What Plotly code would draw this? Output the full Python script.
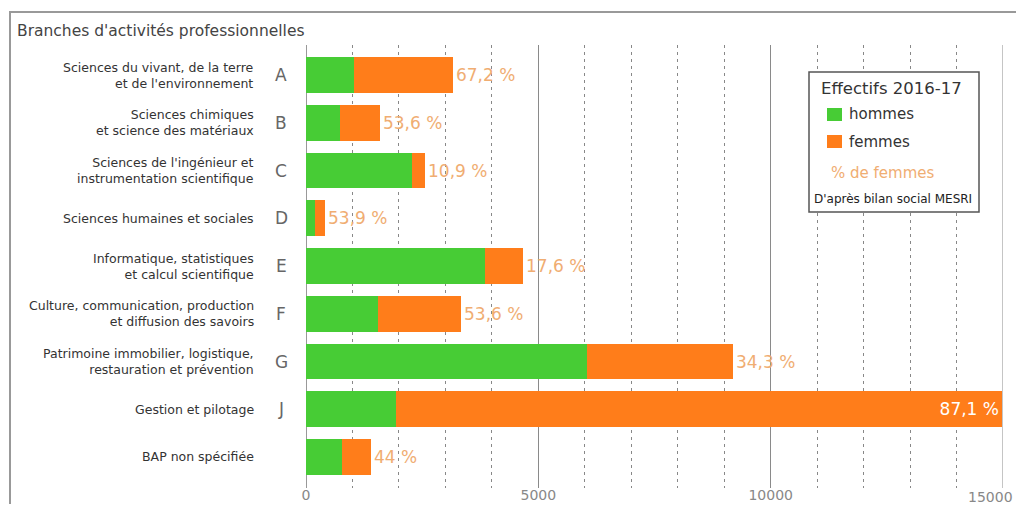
import plotly.graph_objects as go

letters = ["A", "B", "C", "D", "E", "F", "G", "J", ""]
descriptions = [
    "Sciences du vivant, de la terre<br>et de l'environnement",
    "Sciences chimiques<br>et science des matériaux",
    "Sciences de l'ingénieur et<br>instrumentation scientifique",
    "Sciences humaines et sociales",
    "Informatique, statistiques<br>et calcul scientifique",
    "Culture, communication, production<br>et diffusion des savoirs",
    "Patrimoine immobilier, logistique,<br>restauration et prévention",
    "Gestion et pilotage",
    "BAP non spécifiée",
]
hommes = [1037, 739, 2282, 189, 3848, 1548, 6037, 1932, 783]
femmes = [2126, 853, 279, 220, 822, 1788, 3152, 13046, 616]
pct_labels = ["67,2 %", "53,6 %", "10,9 %", "53,9 %", "17,6 %", "53,6 %", "34,3 %", "87,1 %", "44 %"]
x_ticks = [0, 5000, 10000, 15000]

# page body has an 8px margin; figure sized so page = 1024x512
OX, OY = 8, 8
W, H = 1008, 496
L = 306 - OX
R = W - (1003 - OX)
T = 45 - OY
B = H - (488 - OY)
PW, PH = W - L - R, H - T - B


def px(x):
    return (x - OX - L) / PW


def py(y):
    return (H - B - (y - OY)) / PH


cats = list(range(len(hommes)))
GREEN = "#47cc35"
ORANGE = "#ff7d1a"
PCT = "#f0ad72"
FONT = "DejaVu Sans, Liberation Sans, sans-serif"
TICKFONT = dict(size=14, color="#888", family=FONT)

inside = [i == 7 for i in cats]
fig = go.Figure()
fig.add_trace(go.Bar(y=cats, x=hommes, orientation="h", marker=dict(color=GREEN, line_width=0),
                     name="hommes", width=0.75, showlegend=False, hoverinfo="x"))
fig.add_trace(go.Bar(y=cats, x=femmes, orientation="h", marker=dict(color=ORANGE, line_width=0),
                     name="femmes", width=0.75, showlegend=False, hoverinfo="x",
                     text=pct_labels,
                     textposition=["inside" if f else "outside" for f in inside],
                     insidetextanchor="end",
                     textfont=dict(family=FONT, size=17,
                                   color=["white" if f else PCT for f in inside]),
                     constraintext="none", cliponaxis=False))

# last tick label is drawn shifted left so it fits inside the page
shown_ticks = x_ticks[:-1]
fig.update_layout(
    width=W, height=H, barmode="stack", bargap=0.25,
    margin=dict(l=L, r=R, t=T, b=B, pad=0, autoexpand=False),
    paper_bgcolor="white", plot_bgcolor="white",
    font=dict(family=FONT, color="#333"),
    xaxis=dict(range=[0, 15000], tickvals=shown_ticks, ticktext=[str(v) for v in shown_ticks],
               showgrid=True, gridcolor="#8a8a8a", gridwidth=1,
               minor=dict(dtick=1000, showgrid=True, gridcolor="#888", griddash="3px,4px", gridwidth=1),
               zeroline=True, zerolinecolor="#999", zerolinewidth=1, automargin=False,
               tickfont=TICKFONT, ticks="", showline=False, ticklabelstandoff=-3),
    yaxis=dict(range=[8.65, -0.63], showticklabels=False, showgrid=False, zeroline=False,
               showline=False, ticks="", automargin=False),
    shapes=[dict(type="line", xref="x", yref="paper", x0=x_ticks[-1], x1=x_ticks[-1], y0=0, y1=1,
                 line=dict(color="#8a8a8a", width=1), layer="below")],
)
fig.add_annotation(xref="x", yref="paper", x=x_ticks[-1], y=0, xanchor="right", yanchor="top",
                   xshift=12, yshift=1, text=str(x_ticks[-1]), showarrow=False, font=TICKFONT)

# Outer frame
fig.add_shape(type="rect", xref="paper", yref="paper", x0=px(10), y0=py(12), x1=px(1040), y1=py(540),
              line=dict(color="#999", width=2), layer="below")

# Title
fig.add_annotation(xref="paper", yref="paper", x=px(15), y=py(31), xanchor="left", yanchor="middle",
                   text="Branches d'activités professionnelles", showarrow=False,
                   font=dict(size=15.5, color="#444"))

# Category labels
for i in cats:
    fig.add_annotation(xref="paper", yref="y", x=px(256), y=i, xanchor="right", yanchor="middle",
                       text=descriptions[i], showarrow=False, align="right",
                       font=dict(size=12.5, color="#333"))
    if letters[i]:
        fig.add_annotation(xref="paper", yref="y", x=px(281), y=i, xanchor="center", yanchor="middle",
                           text=letters[i], showarrow=False, font=dict(size=17, color="#666"))

# Legend box
fig.add_shape(type="rect", xref="paper", yref="paper", x0=px(809), y0=py(72), x1=px(979), y1=py(212),
              line=dict(color="#555", width=1.5), fillcolor="white", layer="above")
fig.add_annotation(xref="paper", yref="paper", x=px(891), y=py(88), xanchor="center", yanchor="middle",
                   text="Effectifs 2016-17", showarrow=False, font=dict(size=16.5, color="#333"))
fig.add_shape(type="rect", xref="paper", yref="paper", x0=px(827), y0=py(108), x1=px(842), y1=py(121),
              line_width=0, fillcolor=GREEN, layer="above")
fig.add_annotation(xref="paper", yref="paper", x=px(847), y=py(114), xanchor="left", yanchor="middle",
                   text="hommes", showarrow=False, font=dict(size=15, color="#333"))
fig.add_shape(type="rect", xref="paper", yref="paper", x0=px(827), y0=py(135), x1=px(842), y1=py(148),
              line_width=0, fillcolor=ORANGE, layer="above")
fig.add_annotation(xref="paper", yref="paper", x=px(847), y=py(142), xanchor="left", yanchor="middle",
                   text="femmes", showarrow=False, font=dict(size=15, color="#333"))
fig.add_annotation(xref="paper", yref="paper", x=px(829), y=py(173), xanchor="left", yanchor="middle",
                   text="% de femmes", showarrow=False, font=dict(size=15, color=PCT))
fig.add_annotation(xref="paper", yref="paper", x=px(893), y=py(199), xanchor="center", yanchor="middle",
                   text="D'après bilan social MESRI", showarrow=False, font=dict(size=12, color="#222"))

fig.write_html("out.html")
